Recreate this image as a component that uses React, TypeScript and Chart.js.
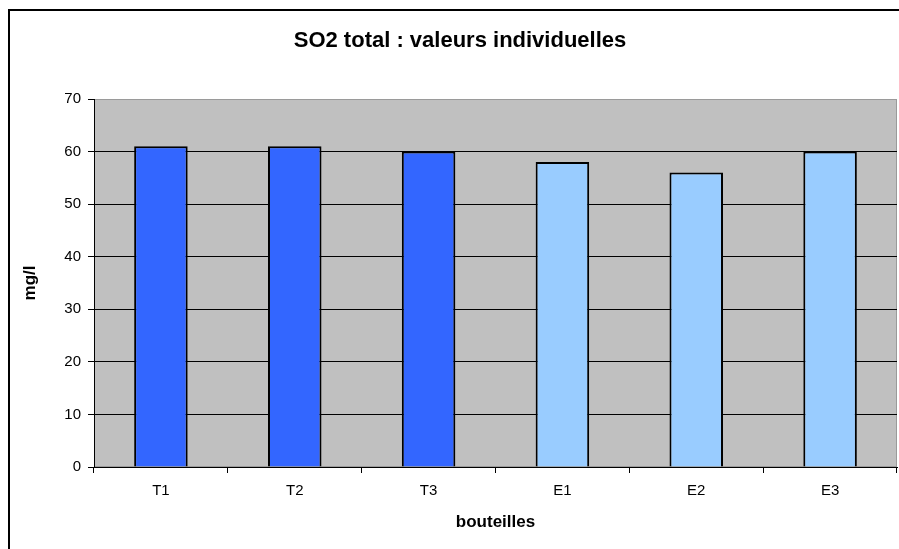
import React, { useEffect, useRef } from "react";
import { Chart, registerables } from "chart.js";

Chart.register(...registerables);

const chartTitle = "SO2 total : valeurs individuelles";
const yAxisTitle = "mg/l";
const xAxisTitle = "bouteilles";
const categories = ["T1", "T2", "T3", "E1", "E2", "E3"];
const so2Values = [61, 61, 60, 58, 56, 60];
const barColors = ["#3366FF", "#3366FF", "#3366FF", "#99CCFF", "#99CCFF", "#99CCFF"];
const yMin = 0;
const yMax = 70;
const yStep = 10;

const FONT = "'Liberation Sans', Arial, Helvetica, sans-serif";
const W = 899;
const H = 549;

const framePlugin = {
  id: "frame",
  beforeDraw(chart: any) {
    const { ctx, chartArea: a } = chart;
    ctx.save();
    ctx.fillStyle = "#ffffff";
    ctx.fillRect(0, 0, W, H);
    ctx.fillStyle = "#C0C0C0";
    ctx.fillRect(a.left, a.top, a.right - a.left, a.bottom - a.top);
    ctx.strokeStyle = "#9a9a9a";
    ctx.lineWidth = 1;
    ctx.strokeRect(a.left + 0.5, a.top + 0.5, a.right - a.left - 1, a.bottom - a.top - 1);
    // outer chart border (left and top visible)
    ctx.fillStyle = "#000000";
    ctx.fillRect(8, 9, 2, H - 9);
    ctx.fillRect(8, 9, W - 8, 2);
    // title
    ctx.fillStyle = "#000000";
    ctx.font = `bold 22px ${FONT}`;
    ctx.textAlign = "center";
    ctx.textBaseline = "alphabetic";
    ctx.fillText(chartTitle, 460, 46.5);
    ctx.restore();
  },
};

export default function App() {
  const ref = useRef<HTMLCanvasElement | null>(null);

  useEffect(() => {
    if (!ref.current) return;
    const chart = new Chart(ref.current, {
      type: "bar",
      data: {
        labels: categories,
        datasets: [
          {
            data: so2Values,
            backgroundColor: barColors,
            borderColor: "#000000",
            borderWidth: 2,
            barPercentage: 0.4,
            categoryPercentage: 1,
          },
        ],
      },
      options: {
        responsive: false,
        animation: false,
        devicePixelRatio: 1,
        layout: { padding: { top: 99, left: 0, right: 2, bottom: 0 } },
        plugins: {
          legend: { display: false },
          title: { display: false },
          tooltip: { enabled: false },
        },
        scales: {
          x: {
            afterFit: (s: any) => {
              s.height = 82;
            },
            grid: {
              offset: true,
              drawOnChartArea: false,
              drawTicks: true,
              tickLength: 6,
              color: "#000000",
              tickColor: "#000000",
            },
            border: { color: "#000000", width: 1 },
            ticks: {
              color: "#000000",
              font: { family: FONT, size: 15 },
              padding: 9,
            },
            title: {
              display: true,
              text: xAxisTitle,
              color: "#000000",
              font: { family: FONT, size: 17, weight: "bold" },
              padding: { top: 0, bottom: 16 },
            },
          },
          y: {
            min: yMin,
            max: yMax,
            afterFit: (s: any) => {
              s.width = 94;
            },
            grid: {
              color: (c: any) => (c.tick && c.tick.value === yMax ? "rgba(0,0,0,0)" : "#000000"),
              tickColor: "#000000",
              tickLength: 6,
              lineWidth: 1,
            },
            border: { color: "#000000", width: 1 },
            ticks: {
              stepSize: yStep,
              color: "#000000",
              font: { family: FONT, size: 15 },
              padding: 7,
            },
            title: {
              display: true,
              text: yAxisTitle,
              color: "#000000",
              font: { family: FONT, size: 17, weight: "bold" },
              padding: { top: 20, bottom: 0 },
            },
          },
        },
      },
      plugins: [framePlugin],
    });
    return () => chart.destroy();
  }, []);

  return (
    <div style={{ position: "absolute", left: 0, top: 0, width: W, height: H }}>
      <canvas ref={ref} width={W} height={H} style={{ display: "block", width: W, height: H }} />
    </div>
  );
}
